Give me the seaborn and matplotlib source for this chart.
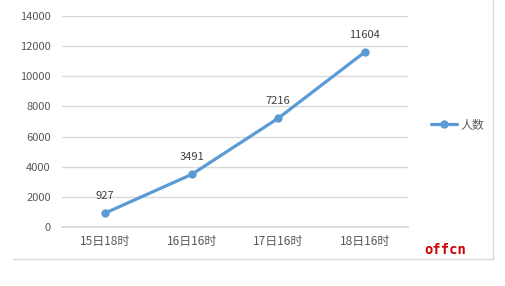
import matplotlib
matplotlib.use("Agg")
import matplotlib.pyplot as plt
import seaborn as sns
import pandas as pd
from matplotlib.lines import Line2D

categories = ["15日18时", "16日16时", "17日16时", "18日16时"]
values = [927, 3491, 7216, 11604]
series_name = "人数"
yticks = [0, 2000, 4000, 6000, 8000, 10000, 12000, 14000]

sns.set_theme(style="white")
plt.rcParams['font.family'] = ['Noto Sans CJK SC', 'DejaVu Sans']

W, H = 506, 286
fig = plt.figure(figsize=(W/100, H/100), dpi=100)
fig.patch.set_facecolor("white")
ax = fig.add_axes([62/W, 1-227/H, (408-62)/W, (227-16)/H])

df = pd.DataFrame({"cat": categories, "val": values})
df["x"] = range(len(categories))
color = "#5B9BD5"
sns.lineplot(data=df, x="x", y="val", ax=ax, color=color, linewidth=2.3,
             marker="o", markersize=6, markeredgewidth=0, legend=False)

ax.set_xlim(-0.5, len(categories)-0.5)
ax.set_ylim(0, 14000)
ax.set_yticks(yticks)
ax.set_yticklabels([str(t) for t in yticks])
ax.set_xticks(range(len(categories)))
ax.set_xticklabels(categories)
ax.set_xlabel("")
ax.set_ylabel("")
ax.grid(axis="y", color="#D9D9D9", linewidth=1)
ax.set_axisbelow(True)
for s in ["top", "right", "left"]:
    ax.spines[s].set_visible(False)
ax.spines["bottom"].set_color("#D9D9D9")
ax.tick_params(axis="y", length=0, labelsize=8, colors="#595959", pad=8)
ax.tick_params(axis="x", length=0, labelsize=8.6, colors="#595959", pad=6)

for xi, v in zip(df["x"], values):
    ax.annotate(str(v), (xi, v), xytext=(0, 9), textcoords="offset points",
                ha="center", va="bottom", fontsize=8, color="#404040")

handle = Line2D([], [], color=color, linewidth=2.3, marker="o", markersize=5)
fig.legend([handle], [series_name], loc="center left",
           bbox_to_anchor=(420/W, 1-125/H), frameon=False, fontsize=8.6,
           handlelength=2.2, handletextpad=0.3, labelcolor="#595959")

# chart frame (right and bottom edges)
fig.add_artist(Line2D([13/W, 493/W], [1-259/H, 1-259/H], color="#D9D9D9", lw=1))
fig.add_artist(Line2D([493/W, 493/W], [1-259/H, 1.0], color="#D9D9D9", lw=1))

fig.text(424/W, 1-250/H, "offcn", color="#CC0000", fontsize=10,
         fontweight="bold", family="DejaVu Sans Mono", va="center", ha="left")

fig.savefig("out.png", dpi=100, facecolor="white")
